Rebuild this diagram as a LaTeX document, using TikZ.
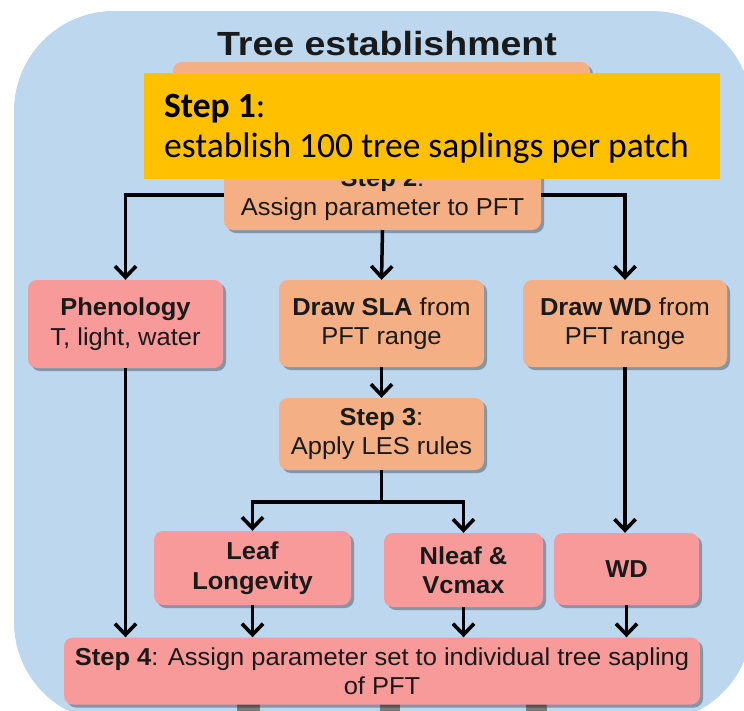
\documentclass[tikz,border=0pt]{standalone}
\usepackage{fontspec}
\setmainfont{Liberation Sans}[FakeStretch=1.04]
\newfontfamily\titlefont{Liberation Sans}[FakeStretch=1.12]
\newfontfamily\calibrifont{Carlito}
\usetikzlibrary{arrows.meta,shadows}
\definecolor{bluebg}{HTML}{BDD7EE}
\definecolor{boxorange}{HTML}{F4B084}
\definecolor{boxpink}{HTML}{F89A9A}
\definecolor{stepyellow}{HTML}{FFC000}
\definecolor{txt}{HTML}{1A1A1A}
\definecolor{stubgray}{HTML}{7A7A7A}
\tikzset{
  box/.style={rounded corners=9pt, align=center, inner sep=0pt, text=txt,
    font=\fontsize{24.5}{29.5}\selectfont,
    drop shadow={shadow xshift=3pt, shadow yshift=-3pt, fill=black, opacity=0.3}},
  obox/.style={box, fill=boxorange},
  pbox/.style={box, fill=boxpink},
  conn/.style={line width=3.5pt, draw=black, -{Straight Barb[length=11pt,width=21pt,line width=3.6pt]}},
  plain/.style={line width=3.5pt, draw=black}
}
\begin{document}
\begin{tikzpicture}[x=1pt,y=-1pt]
\useasboundingbox (0,0) rectangle (744,710);
\clip (0,0) rectangle (744,710);
\fill[bluebg, rounded corners=100pt] (14,11) rectangle (752,722);
% gray stubs at bottom
\fill[stubgray] (237,704) rectangle (260,712);
\fill[stubgray] (380,704) rectangle (400,712);
\fill[stubgray] (526,704) rectangle (547,712);
% title
\node[font=\titlefont\bfseries\fontsize{33.5}{36}\selectfont, text=txt, anchor=base] (title) at (387,55) {Tree establishment};
% hidden step 1 box
\node[obox, minimum width=417pt, minimum height=88pt] (step1o) at (381.5,106) {};
% step 2
\node[obox, minimum width=317pt, minimum height=70pt] (step2) at (382.5,195) {\textbf{Step 2}:\\Assign parameter to PFT};
% yellow overlay
\node[fill=stepyellow, minimum width=576pt, minimum height=106pt, inner sep=0pt] (step1) at (432,126) {};
\node[font=\calibrifont\fontsize{35.5}{40}\selectfont, text=black, anchor=base west, inner sep=0pt] (s1a) at (164,117) {\textbf{Step 1}:};
\node[font=\calibrifont\fontsize{35.5}{40}\selectfont, text=black, anchor=base west, inner sep=0pt] (s1b) at (164,157) {establish 100 tree saplings per patch};
% second row
\node[pbox, minimum width=195pt, minimum height=88pt] (pheno) at (125.5,324) {\textbf{Phenology}\\T, light, water};
\node[obox, minimum width=205pt, minimum height=87pt] (sla) at (381.5,323.5) {\textbf{Draw SLA} from\\PFT range};
\node[obox, minimum width=204pt, minimum height=87pt] (wd) at (625,323.5) {\textbf{Draw WD} from\\PFT range};
% step 3
\node[obox, minimum width=205pt, minimum height=72pt] (step3) at (381.5,434) {\textbf{Step 3}:\\Apply LES rules};
% third row
\node[pbox, minimum width=197pt, minimum height=74pt] (leaf) at (252.5,568) {\textbf{Leaf}\\\textbf{Longevity}};
\node[pbox, minimum width=159pt, minimum height=74pt] (nleaf) at (463.5,570) {\textbf{Nleaf \&}\\\textbf{Vcmax}};
\node[pbox, minimum width=145pt, minimum height=72pt] (wd2) at (626.5,569) {\textbf{WD}};
% step 4
\node[pbox, minimum width=636pt, minimum height=67pt] (step4) at (382,671) {\textbf{Step 4}: Assign parameter set to individual tree sapling\\of PFT};
% connectors
\draw[conn] (step2.west) -| (pheno.north);
\draw[conn] (step2.east) -| (wd.north);
\draw[conn] (step2.south) -- (sla.north);
\draw[conn] (sla.south) -- (step3.north);
\coordinate (br) at (381.5,502);
\draw[plain] (step3.south) -- (br);
\draw[conn] (br) -| (leaf.north);
\draw[conn] (br) -| (nleaf.north);
\draw[conn] (pheno.south) -- (pheno.south |- step4.north);
\draw[conn] (wd.south) -- (wd.south |- wd2.north);
\draw[conn] (leaf.south) -- (leaf.south |- step4.north);
\draw[conn] (nleaf.south) -- (nleaf.south |- step4.north);
\draw[conn] (wd2.south) -- (wd2.south |- step4.north);
\end{tikzpicture}
\end{document}
